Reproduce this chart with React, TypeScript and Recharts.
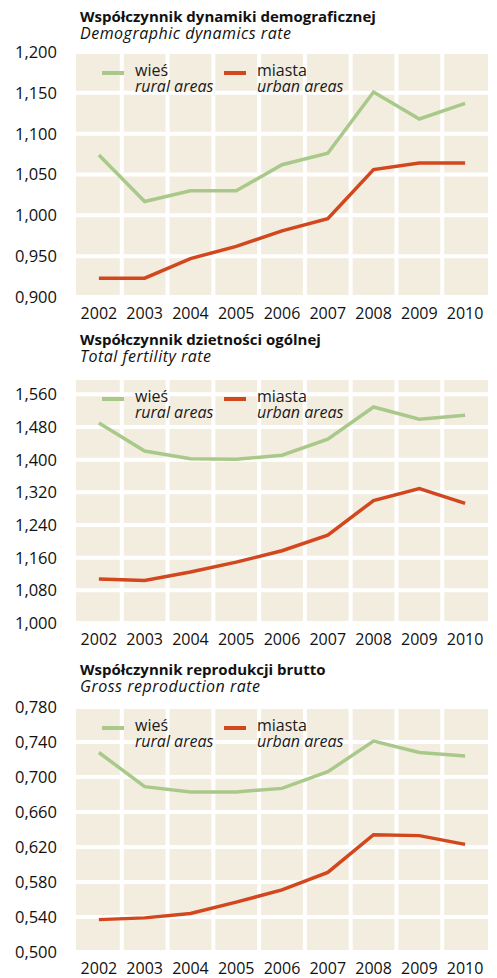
import { LineChart, Line, XAxis, YAxis, CartesianGrid } from 'recharts';

const years = ['2002', '2003', '2004', '2005', '2006', '2007', '2008', '2009', '2010'];

// Demographic dynamics rate
const dynRural = [1.074, 1.017, 1.030, 1.030, 1.062, 1.076, 1.151, 1.118, 1.137];
const dynUrban = [0.923, 0.923, 0.947, 0.962, 0.981, 0.996, 1.056, 1.064, 1.064];
const dynTicks = [0.9, 0.95, 1.0, 1.05, 1.1, 1.15, 1.2];

// Total fertility rate
const tfrRural = [1.490, 1.421, 1.402, 1.401, 1.411, 1.450, 1.529, 1.499, 1.509];
const tfrUrban = [1.108, 1.104, 1.125, 1.149, 1.177, 1.215, 1.300, 1.329, 1.293];
const tfrTicks = [1.0, 1.08, 1.16, 1.24, 1.32, 1.4, 1.48, 1.56];

// Gross reproduction rate
const grrRural = [0.728, 0.689, 0.683, 0.683, 0.687, 0.706, 0.741, 0.728, 0.724];
const grrUrban = [0.537, 0.539, 0.544, 0.557, 0.571, 0.591, 0.634, 0.633, 0.623];
const grrTicks = [0.5, 0.54, 0.58, 0.62, 0.66, 0.7, 0.74, 0.78];

const GREEN = '#a9c98b';
const RED = '#d2471d';
const BEIGE = '#f3ede0';
const FONT = '"Open Sans", Lato, sans-serif';

const buildRows = (rural: number[], urban: number[]) =>
    years.map((year, i) => ({ year, rural: rural[i], urban: urban[i] }));

interface PanelProps {
    title: string;
    subtitle: string;
    titleTop: number;
    plotTop: number;
    rural: number[];
    urban: number[];
    ticks: number[];
    domain: [number, number];
}

const CHART_W = 497;
const PLOT_LEFT = 76;
const PLOT_RIGHT = 9;
const PLOT_W = CHART_W - PLOT_LEFT - PLOT_RIGHT;
const PLOT_H = 245;
const MARGIN_TOP = 14;
const X_AXIS_H = 26;
const BAND = PLOT_W / years.length;

// white separators between the year bands
const bandEdges = years.slice(1).map((_, i) => PLOT_LEFT + (i + 1) * BAND);

function LegendBox() {
    const item = (color: string, pl: string, en: string, left: number) => (
        <div style={{ position: 'absolute', left, top: 0 }}>
            <div style={{ position: 'absolute', left: 0, top: 9, width: 22, height: 4, background: color }} />
            <div style={{ position: 'absolute', left: 33, top: 0, fontSize: 16, whiteSpace: 'nowrap', color: '#1a1a1a' }}>
                <div style={{ lineHeight: '16px' }}>{pl}</div>
                <div style={{ lineHeight: '16px', fontStyle: 'italic' }}>{en}</div>
            </div>
        </div>
    );
    return (
        <div style={{ position: 'absolute', left: 0, top: 0 }}>
            {item(GREEN, 'wieś', 'rural areas', 102)}
            {item(RED, 'miasta', 'urban areas', 224)}
        </div>
    );
}

function Panel({ title, subtitle, titleTop, plotTop, rural, urban, ticks, domain }: PanelProps) {
    const data = buildRows(rural, urban);
    const chartTop = plotTop - MARGIN_TOP;
    return (
        <>
            <div style={{ position: 'absolute', left: 80, top: titleTop, fontSize: 15, fontWeight: 700, lineHeight: '17px', color: '#111', whiteSpace: 'nowrap' }}>
                {title}
            </div>
            <div style={{ position: 'absolute', left: 80, top: titleTop + 17, fontSize: 16, fontStyle: 'italic', letterSpacing: 0.5, lineHeight: '17px', color: '#111', whiteSpace: 'nowrap' }}>
                {subtitle}
            </div>
            <div style={{ position: 'absolute', left: 0, top: chartTop }}>
                <LineChart
                    width={CHART_W}
                    height={MARGIN_TOP + PLOT_H + X_AXIS_H}
                    data={data}
                    margin={{ top: MARGIN_TOP, right: PLOT_RIGHT, bottom: 0, left: 0 }}
                >
                    <CartesianGrid
                        fill={BEIGE}
                        fillOpacity={1}
                        stroke="#ffffff"
                        strokeWidth={4}
                        verticalPoints={bandEdges}
                    />
                    <XAxis
                        dataKey="year"
                        height={X_AXIS_H}
                        padding={{ left: BAND / 2, right: BAND / 2 }}
                        tickLine={false}
                        axisLine={false}
                        tickSize={0}
                        tickMargin={11}
                        tick={{ fill: '#111', fontSize: 16, fontFamily: FONT }}
                        interval={0}
                    />
                    <YAxis
                        width={PLOT_LEFT}
                        domain={domain}
                        ticks={ticks}
                        allowDataOverflow
                        tickLine={false}
                        axisLine={false}
                        tickSize={0}
                        tickMargin={19}
                        tick={{ fill: '#111', fontSize: 16.5, fontFamily: FONT }}
                        tickFormatter={(v: number) => v.toFixed(3).replace('.', ',')}
                    />
                    <Line type="linear" dataKey="rural" stroke={GREEN} strokeWidth={3.5} dot={false} isAnimationActive={false} />
                    <Line type="linear" dataKey="urban" stroke={RED} strokeWidth={3.5} dot={false} isAnimationActive={false} />
                </LineChart>
                <div style={{ position: 'absolute', left: 0, top: MARGIN_TOP + 10 }}>
                    <LegendBox />
                </div>
            </div>
        </>
    );
}

export default function App() {
    return (
        <div style={{ position: 'absolute', left: 0, top: 0, width: 497, height: 978, background: '#fff', fontFamily: FONT }}>
            <Panel
                title="Współczynnik dynamiki demograficznej"
                subtitle="Demographic dynamics rate"
                titleTop={8}
                plotTop={52}
                rural={dynRural}
                urban={dynUrban}
                ticks={dynTicks}
                domain={[0.9, 1.2]}
            />
            <Panel
                title="Współczynnik dzietności ogólnej"
                subtitle="Total fertility rate"
                titleTop={331}
                plotTop={378}
                rural={tfrRural}
                urban={tfrUrban}
                ticks={tfrTicks}
                domain={[1.0, 1.6]}
            />
            <Panel
                title="Współczynnik reprodukcji brutto"
                subtitle="Gross reproduction rate"
                titleTop={661}
                plotTop={707}
                rural={grrRural}
                urban={grrUrban}
                ticks={grrTicks}
                domain={[0.5, 0.78]}
            />
        </div>
    );
}
